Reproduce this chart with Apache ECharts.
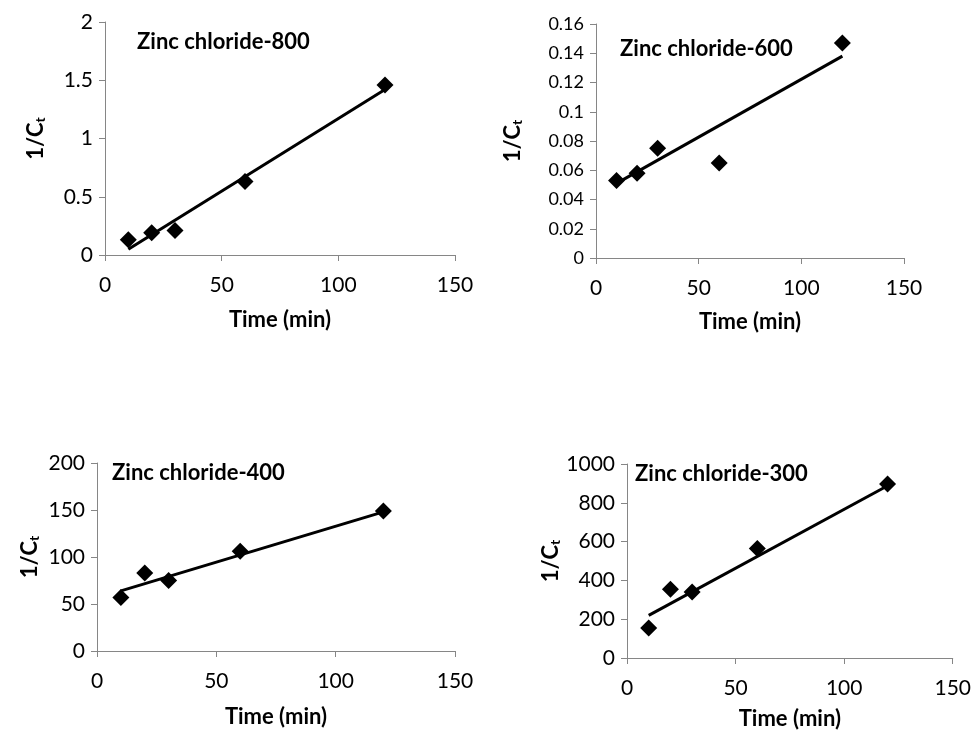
<!DOCTYPE html>
<html>
<head>
<meta charset="utf-8">
<script src="https://cdn.jsdelivr.net/npm/echarts@6/dist/echarts.min.js"></script>
<style>
  html, body { margin: 0; padding: 0; background: #fff; }
  #chart { width: 974px; height: 731px; }
</style>
</head>
<body>
<div id="chart"></div>
<script>
// time points (min)
const timeMin = [10, 20, 30, 60, 120]
const xTicks = [0, 150, 50]   // min, max, interval

// 1/Ct values
const zc800 = [0.13, 0.19, 0.21, 0.63, 1.46]
const zc600 = [0.053, 0.058, 0.075, 0.065, 0.147]
const zc400 = [57, 83, 75, 106, 149]
const zc300 = [155, 355, 340, 565, 897]

// trend line ends (at first and last time)
const fitX = [10, 120]
const fit800 = [0.05, 1.42]
const fit600 = [0.051, 0.138]
const fit400 = [64, 148]
const fit300 = [220, 888]

// panel titles and y axis ranges: [max, interval]
const titles = ['Zinc chloride-800', 'Zinc chloride-600', 'Zinc chloride-400', 'Zinc chloride-300']
const yRanges = [[2, 0.5], [0.16, 0.02], [200, 50], [1000, 200]]

const panels = [
  { grid: { left: 105, top: 22, width: 350, height: 233 }, title: [137, 31], yGap: 58, xGap: 54, pts: zc800, fit: fit800 },
  { grid: { left: 596, top: 24, width: 308, height: 234 }, title: [620, 38], yGap: 72, xGap: 53, pts: zc600, fit: fit600 },
  { grid: { left: 97, top: 463, width: 358, height: 188 }, title: [112, 462], yGap: 56, xGap: 55, pts: zc400, fit: fit400 },
  { grid: { left: 627, top: 464, width: 330, height: 197 }, title: [635, 463], yGap: 61, xGap: 50, pts: zc300, fit: fit300 }
]

const axisColor = '#868686'
const textColor = '#000'
const fontFamily = 'Lato, "Open Sans", sans-serif'

const chart = echarts.init(document.getElementById('chart'))

const option = {
  animation: false,
  backgroundColor: '#fff',
  title: panels.map((p, i) => ({
    text: titles[i],
    left: p.title[0],
    top: p.title[1],
    padding: 0,
    textStyle: { fontFamily, fontSize: 22, fontWeight: 'bold', color: textColor }
  })),
  grid: panels.map(p => p.grid),
  xAxis: panels.map((p, i) => ({
    type: 'value',
    gridIndex: i,
    min: xTicks[0],
    max: xTicks[1],
    interval: xTicks[2],
    name: 'Time (min)',
    nameLocation: 'middle',
    nameGap: p.xGap,
    nameTextStyle: { fontFamily, fontSize: 22, fontWeight: 'bold', color: textColor },
    axisLine: { show: true, onZero: false, lineStyle: { color: axisColor, width: 1 } },
    axisTick: { show: true, inside: false, length: 6, lineStyle: { color: axisColor } },
    axisLabel: { fontFamily, fontSize: 21, color: textColor, margin: 20 },
    splitLine: { show: false }
  })),
  yAxis: panels.map((p, i) => ({
    type: 'value',
    gridIndex: i,
    min: 0,
    max: yRanges[i][0],
    interval: yRanges[i][1],
    name: '1/C{sub|t}',
    nameLocation: 'middle',
    nameRotate: 90,
    nameGap: p.yGap,
    nameTextStyle: {
      fontFamily, fontSize: 22, fontWeight: 'bold', color: textColor,
      rich: {
        sub: { fontFamily, fontSize: 14, fontWeight: 'bold', color: textColor, verticalAlign: 'bottom', padding: [9, 0, 0, 0] }
      }
    },
    axisLine: { show: true, onZero: false, lineStyle: { color: axisColor, width: 1 } },
    axisTick: { show: true, inside: false, length: 6, lineStyle: { color: axisColor } },
    axisLabel: { fontFamily, fontSize: i === 1 ? 18 : 21, color: textColor, margin: 12, formatter: v => String(v) },
    splitLine: { show: false }
  })),
  series: panels.flatMap((p, i) => [
    {
      type: 'line',
      xAxisIndex: i,
      yAxisIndex: i,
      data: fitX.map((x, k) => [x, p.fit[k]]),
      symbol: 'none',
      lineStyle: { color: '#000', width: 3 },
      silent: true
    },
    {
      type: 'scatter',
      xAxisIndex: i,
      yAxisIndex: i,
      data: timeMin.map((x, k) => [x, p.pts[k]]),
      symbol: 'diamond',
      symbolSize: 17,
      itemStyle: { color: '#000', opacity: 1 },
      z: 3
    }
  ])
}

chart.setOption(option)
</script>
</body>
</html>
